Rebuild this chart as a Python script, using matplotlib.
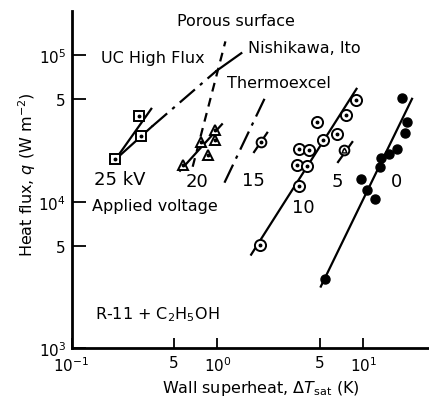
import matplotlib
matplotlib.use("Agg")
import matplotlib.pyplot as plt

plt.rcParams['font.family'] = ['DejaVu Sans']
plt.rcParams['mathtext.fontset'] = 'dejavusans'

# ---- data (wall superheat K, heat flux W/m2) ----
kv25_x = [0.200, 0.291, 0.301]
kv25_y = [19440, 38460, 28090]
kv20_x = [0.578, 0.770, 0.958, 0.958, 0.855]
kv20_y = [17890, 25560, 30670, 26210, 20930]
kv15_x = [1.99]
kv15_y = [25560]
kv10_x = [8.82, 7.54, 4.84, 6.55, 5.29, 3.63, 4.25, 3.50, 4.10, 3.60, 1.97]
kv10_y = [49700, 39260, 34990, 28800, 26210, 23000, 22650, 17690, 17420, 12800, 5030]
kv5_x = [7.35]
kv5_y = [22390]
kv0_x = [18.5, 20.0, 19.1, 17.0, 15.0, 13.2, 13.05, 9.54, 10.6, 11.9, 5.46]
kv0_y = [51290, 34990, 29580, 23000, 21030, 19970, 17250, 14200, 11940, 10480, 2948]

# fitted / reference lines (endpoints)
fit25a_x = [0.200, 0.352]; fit25a_y = [19440, 43130]
fit25b_x = [0.200, 0.356]; fit25b_y = [19440, 32660]
fit20_x = [0.554, 1.073]; fit20_y = [16280, 33810]
fit15_x = [1.78, 2.19]; fit15_y = [21840, 29580]
fit10_x = [1.70, 8.96]; fit10_y = [4346, 59060]
fit5_x = [6.69, 8.38]; fit5_y = [18660, 25560]
fit0_x = [5.10, 21.5]; fit0_y = [2630, 50470]
uc_x = [0.356, 0.984]; uc_y = [32660, 78380]
nishi_x = [0.984, 1.456]; nishi_y = [78380, 103500]
porous_x = [0.676, 1.133]; porous_y = [17330, 124600]
thermo_x = [1.116, 2.098]; thermo_y = [13480, 50470]

xticks = [0.1, 0.5, 1, 5, 10]
xticklabels = [r'$10^{-1}$', '5', r'$10^{0}$', '5', r'$10^{1}$']
yticks = [1e3, 5e3, 1e4, 5e4, 1e5]
yticklabels = [r'$10^{3}$', '5', r'$10^{4}$', '5', r'$10^{5}$']

W, H = 429, 402
fig = plt.figure(figsize=(W / 100, H / 100), dpi=100)
L, R, T, B = 71.5, 429, 12, 349
ax = fig.add_axes([L / W, 1 - B / H, (R - L) / W, (B - T) / H])
ax.set_xscale('log')
ax.set_yscale('log')
ax.set_xlim(0.1033, 28.1)
ax.set_ylim(1000, 2.01e5)
for s in ['top', 'right']:
    ax.spines[s].set_visible(False)
for s in ['left', 'bottom']:
    ax.spines[s].set_linewidth(2)
ax.set_xticks(xticks)
ax.set_xticklabels(xticklabels, fontsize=11)
ax.set_yticks(yticks)
ax.set_yticklabels(yticklabels, fontsize=11)
ax.minorticks_off()
ax.tick_params(axis='y', direction='in', length=10, width=1.3, pad=4)
ax.tick_params(axis='x', direction='in', length=7, width=1.3, pad=5)

lw = 1.6
k = 'black'
ax.plot(fit25a_x, fit25a_y, color=k, lw=lw)
ax.plot(fit25b_x, fit25b_y, color=k, lw=lw)
ax.plot(fit20_x, fit20_y, color=k, lw=lw)
ax.plot(fit15_x, fit15_y, color=k, lw=lw)
ax.plot(fit10_x, fit10_y, color=k, lw=lw)
ax.plot(fit5_x, fit5_y, color=k, lw=lw)
ax.plot(fit0_x, fit0_y, color=k, lw=lw)
ax.plot(uc_x, uc_y, color=k, lw=lw, linestyle=(0, (9, 3, 1.5, 3)))
ax.plot(nishi_x, nishi_y, color=k, lw=lw)
ax.plot(porous_x, porous_y, color=k, lw=lw, linestyle=(0, (4, 3)))
ax.plot(thermo_x, thermo_y, color=k, lw=lw, linestyle=(0, (9, 3, 1.5, 3)))

def dotted(xs, ys, marker, ms):
    ax.plot(xs, ys, linestyle='none', marker=marker, ms=ms, mfc='white',
            mec=k, mew=1.4, zorder=3)
    ax.plot(xs, ys, linestyle='none', marker='o', ms=1.8, color=k, zorder=4)

dotted(kv25_x, kv25_y, 's', 7)
dotted(kv20_x, kv20_y, '^', 7.5)
dotted(kv15_x, kv15_y, 'o', 7)
dotted(kv10_x, kv10_y, 'o', 8)
dotted(kv5_x, kv5_y, 'o', 7)
ax.plot(kv5_x, kv5_y, linestyle='none', marker='^', ms=3.5, mfc='white', mec=k, mew=1, zorder=5)
ax.plot(kv0_x, kv0_y, linestyle='none', marker='o', ms=6.5, color=k, zorder=3)

def ftext(px, py, s, ha='left', size=11.5, **kw):
    fig.text(px / W, 1 - py / H, s, ha=ha, va='center', fontsize=size, **kw)

ftext(177, 22, 'Porous surface')
ftext(101, 59, 'UC High Flux')
ftext(248, 49, 'Nishikawa, Ito')
ftext(227, 84, 'Thermoexcel')
ftext(94, 180, '25 kV', size=13)
ftext(186, 182, '20', size=13)
ftext(242, 181, '15', size=13)
ftext(337, 182, '5', ha='center', size=13)
ftext(397, 182, '0', ha='center', size=13)
ftext(303, 208, '10', ha='center', size=13)
ftext(92, 207, 'Applied voltage')
ftext(95, 315, r'R-11 + C$_2$H$_5$OH')
ftext(27, 175, r'Heat flux, $q$ (W m$^{-2}$)', ha='center', rotation=90)
ftext(261, 389, r'Wall superheat, $\Delta T_{\rm sat}$ (K)', ha='center')

fig.savefig('out.png', dpi=100)
